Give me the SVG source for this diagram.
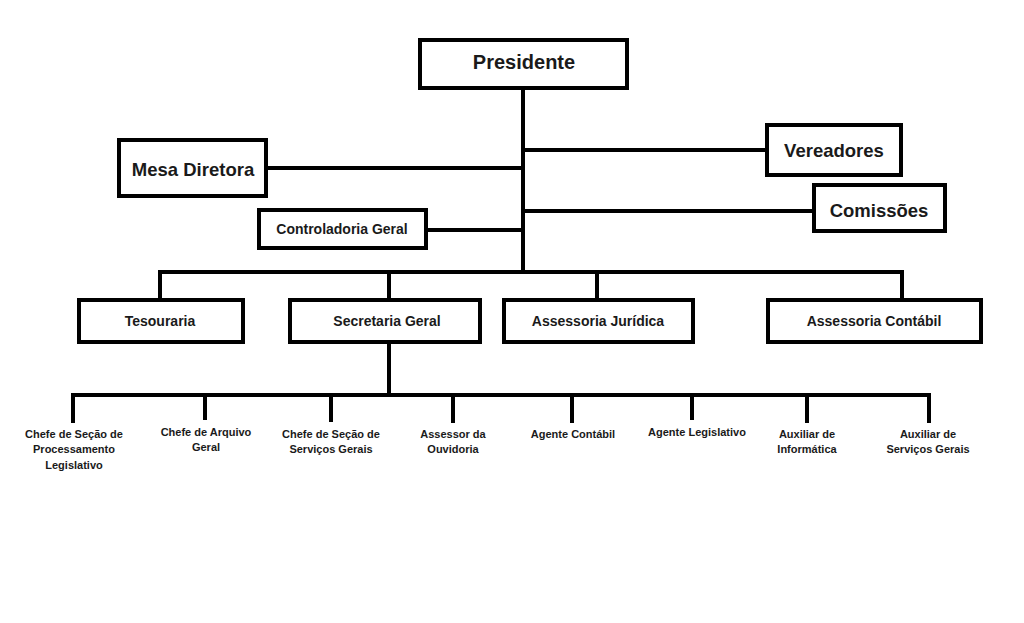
<svg xmlns="http://www.w3.org/2000/svg" width="1024" height="623" viewBox="0 0 1024 623">
<style>
.box{fill:#fff;stroke:#000;stroke-width:4}
.ln{fill:none;stroke:#000;stroke-width:4;stroke-linejoin:miter}
text{font-family:"Liberation Sans",Arial,sans-serif;font-weight:bold;fill:#1a1a1a;text-anchor:middle}
.t1{font-size:20px}
.t2{font-size:18.5px}
.t3{font-size:14px}
.t4{font-size:11px}
</style>
<rect width="1024" height="623" fill="#fff"/>
<g id="connectors">
<path class="ln" d="M523 88 V274"/>
<path class="ln" d="M266 168 H523"/>
<path class="ln" d="M426 230 H523"/>
<path class="ln" d="M523 150 H767"/>
<path class="ln" d="M523 211 H814"/>
<path class="ln" d="M160 300 V272 H902 V300"/>
<path class="ln" d="M389 272 V300"/>
<path class="ln" d="M597 272 V300"/>
<path class="ln" d="M389 342 V395"/>
<path class="ln" d="M73 423 V395 H929 V423"/>
<path class="ln" d="M205 395 V420"/>
<path class="ln" d="M331 395 V422"/>
<path class="ln" d="M453 395 V423"/>
<path class="ln" d="M572 395 V423"/>
<path class="ln" d="M692 395 V420"/>
<path class="ln" d="M807 395 V423"/>
</g>
<g id="presidente"><rect class="box" x="420" y="40" width="207" height="48"/><text class="t1" x="524" y="69">Presidente</text></g>
<g id="mesa-diretora"><rect class="box" x="119" y="140" width="147" height="56"/><text class="t2" x="193" y="176">Mesa Diretora</text></g>
<g id="controladoria-geral"><rect class="box" x="259" y="210" width="167" height="38"/><text class="t3" x="342" y="234">Controladoria Geral</text></g>
<g id="vereadores"><rect class="box" x="767" y="125" width="134" height="50"/><text class="t2" x="834" y="157">Vereadores</text></g>
<g id="comissoes"><rect class="box" x="814" y="185" width="131" height="46"/><text class="t2" x="879" y="217">Comissões</text></g>
<g id="tesouraria"><rect class="box" x="79" y="300" width="164" height="42"/><text class="t3" x="160" y="326">Tesouraria</text></g>
<g id="secretaria-geral"><rect class="box" x="290" y="300" width="190" height="42"/><text class="t3" x="387" y="326">Secretaria Geral</text></g>
<g id="assessoria-juridica"><rect class="box" x="504" y="300" width="189" height="42"/><text class="t3" x="598" y="326">Assessoria Jurídica</text></g>
<g id="assessoria-contabil"><rect class="box" x="768" y="300" width="213" height="42"/><text class="t3" x="874" y="326">Assessoria Contábil</text></g>
<g id="chefe-processamento"><text class="t4" x="74" y="438">Chefe de Seção de</text><text class="t4" x="74" y="453">Processamento</text><text class="t4" x="74" y="469">Legislativo</text></g>
<g id="chefe-arquivo"><text class="t4" x="206" y="436">Chefe de Arquivo</text><text class="t4" x="206" y="451">Geral</text></g>
<g id="chefe-servicos"><text class="t4" x="331" y="438">Chefe de Seção de</text><text class="t4" x="331" y="453">Serviços Gerais</text></g>
<g id="assessor-ouvidoria"><text class="t4" x="453" y="438">Assessor da</text><text class="t4" x="453" y="453">Ouvidoria</text></g>
<g id="agente-contabil"><text class="t4" x="573" y="438">Agente Contábil</text></g>
<g id="agente-legislativo"><text class="t4" x="697" y="436">Agente Legislativo</text></g>
<g id="auxiliar-informatica"><text class="t4" x="807" y="438">Auxiliar de</text><text class="t4" x="807" y="453">Informática</text></g>
<g id="auxiliar-servicos"><text class="t4" x="928" y="438">Auxiliar de</text><text class="t4" x="928" y="453">Serviços Gerais</text></g>
</svg>
